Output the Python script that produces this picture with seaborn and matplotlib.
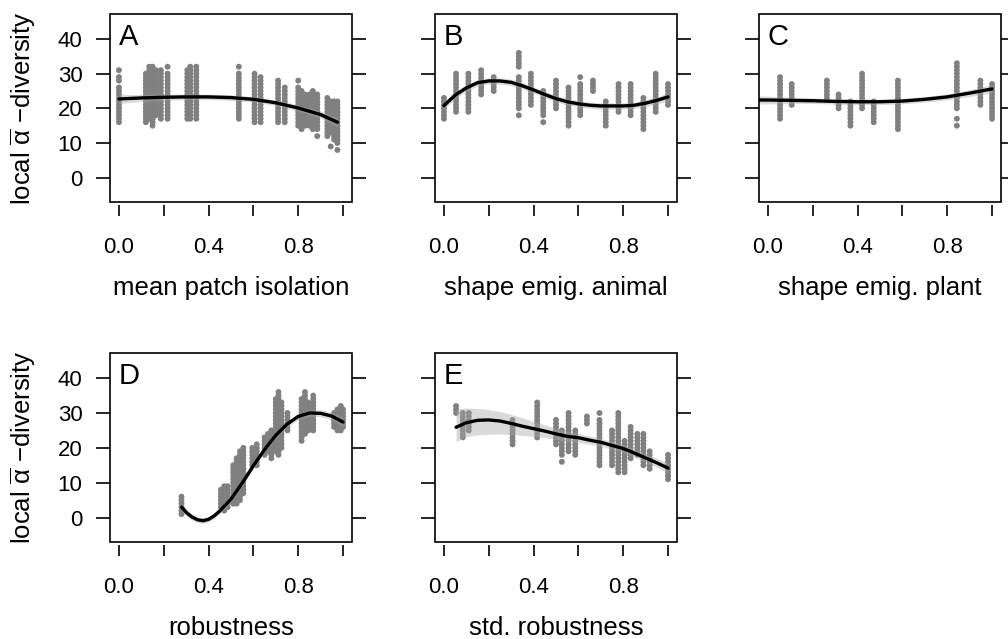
import numpy as np
import pandas as pd
import matplotlib
matplotlib.use("Agg")
import matplotlib.pyplot as plt
import seaborn as sns

# ---------------- data ----------------
panel_letters = ["A", "B", "C", "D", "E"]
xlabels = ["mean patch isolation", "shape emig. animal", "shape emig. plant",
           "robustness", "std. robustness"]
ylabel_text = r"local $\overline{\mathrm{\alpha}}$ $-$diversity"
ytick_vals = [0, 10, 20, 30, 40]
xtick_vals = [0.0, 0.2, 0.4, 0.6, 0.8, 1.0]
xtick_text = ["0.0", "", "0.4", "", "0.8", ""]

# Panel A: strips of points (x position, y values)
a_x = [0.000, 0.120, 0.135, 0.150, 0.165, 0.187, 0.217, 0.305, 0.318, 0.345, 0.535,
       0.605, 0.632, 0.710, 0.740, 0.800, 0.815, 0.830, 0.850, 0.865, 0.885, 0.930,
       0.945, 0.960, 0.975]
a_y = [
    [16, 17, 18, 19, 20, 21, 22, 23, 24, 25, 26, 28, 29, 31],
    [16, 17, 18, 19, 20, 21, 22, 23, 24, 25, 26, 27, 28, 29, 30],
    [17, 18, 19, 20, 21, 22, 23, 24, 25, 26, 27, 28, 29, 30, 31, 32],
    [15, 16, 17, 18, 19, 20, 21, 22, 23, 24, 25, 26, 27, 28, 29, 30, 31, 32],
    [18, 19, 20, 21, 22, 23, 24, 25, 26, 27, 28, 29, 30, 31],
    [17, 18, 19, 20, 21, 22, 23, 24, 25, 26, 27, 28, 29, 30, 31],
    [17, 18, 19, 20, 21, 22, 23, 24, 25, 26, 27, 28, 29, 30, 32],
    [17, 18, 19, 20, 21, 22, 23, 24, 25, 26, 27, 28, 29, 30, 31],
    [17, 18, 19, 20, 21, 22, 23, 24, 25, 26, 27, 28, 29, 30, 31, 32],
    [17, 18, 19, 20, 21, 22, 23, 24, 25, 26, 27, 28, 29, 30, 31, 32],
    [17, 18, 19, 20, 21, 22, 23, 24, 25, 26, 27, 28, 29, 30, 32],
    [16, 17, 18, 19, 20, 21, 22, 23, 24, 25, 26, 27, 28, 29, 30],
    [16, 17, 18, 19, 20, 21, 22, 23, 24, 25, 26, 27, 28, 29],
    [16, 17, 18, 19, 20, 21, 22, 23, 24, 25, 26, 27, 28],
    [16, 17, 18, 19, 20, 21, 22, 23, 24, 25, 26],
    [15, 16, 17, 18, 19, 20, 21, 22, 23, 24, 25, 26, 28],
    [14, 15, 16, 17, 18, 19, 20, 21, 22, 23, 24, 25],
    [15, 16, 17, 18, 19, 20, 21, 22, 23, 24],
    [15, 16, 17, 18, 19, 20, 21, 22, 23, 24],
    [14, 15, 16, 17, 18, 19, 20, 21, 22, 23, 24, 25],
    [12, 14, 15, 16, 17, 18, 19, 20, 21, 22, 23, 24],
    [12, 13, 14, 15, 16, 17, 18, 19, 20, 21, 22, 23],
    [9, 13, 14, 15, 16, 17, 18, 19, 20, 21, 22],
    [11, 12, 13, 14, 15, 16, 17, 18, 19, 20, 21, 22],
    [8, 10, 11, 12, 13, 14, 15, 16, 17, 18, 19, 20, 21, 22],
]

# Panel B
b_x = [0.000, 0.054, 0.109, 0.166, 0.222, 0.334, 0.388, 0.443, 0.500, 0.556, 0.608,
       0.665, 0.722, 0.779, 0.833, 0.890, 0.945, 1.000]
b_y = [
    [17, 18, 19, 20, 21, 22, 23],
    [19, 20, 21, 22, 23, 24, 25, 26, 27, 28, 29, 30],
    [19, 20, 21, 22, 23, 24, 25, 26, 27, 28, 29, 30],
    [24, 25, 26, 27, 28, 29, 30, 31],
    [25, 26, 27, 28, 29],
    [18, 20, 21, 22, 23, 24, 25, 26, 27, 28, 29, 32, 33, 34, 35, 36],
    [21, 22, 23, 24, 25, 26, 27, 28, 29, 30],
    [16, 18, 19, 20, 21, 22, 23, 24, 25],
    [20, 21, 22, 23, 24, 25, 26, 27, 28],
    [15, 16, 17, 18, 19, 20, 21, 22, 23, 24, 25, 26],
    [18, 19, 20, 21, 22, 23, 24, 25, 26, 27, 29],
    [25, 26, 27, 28],
    [15, 16, 17, 18, 19, 20, 21, 22],
    [19, 20, 21, 22, 23, 24, 25, 26, 27],
    [18, 19, 20, 21, 22, 23, 24, 25, 26, 27],
    [14, 15, 16, 17, 18, 19, 20, 21, 22, 23],
    [19, 20, 21, 22, 23, 24, 25, 26, 27, 28, 29, 30],
    [21, 22, 23, 24, 25, 26, 27],
]

# Panel C
c_x = [0.054, 0.106, 0.263, 0.315, 0.368, 0.420, 0.472, 0.580, 0.843, 0.948, 1.000]
c_y = [
    [17, 18, 19, 20, 21, 22, 23, 24, 25, 26, 27, 28, 29],
    [21, 22, 23, 24, 25, 26, 27],
    [23, 24, 25, 26, 27, 28],
    [20, 21, 22, 23, 24],
    [15, 16, 17, 18, 19, 20, 21, 22],
    [20, 21, 22, 23, 24, 25, 26, 27, 28, 29, 30],
    [16, 17, 18, 19, 20, 21, 22],
    [14, 15, 16, 17, 18, 19, 20, 21, 22, 23, 24, 25, 26, 27, 28],
    [15, 17, 20, 21, 22, 23, 24, 25, 26, 27, 28, 29, 30, 31, 32, 33],
    [21, 22, 23, 24, 25, 26, 27, 28],
    [17, 18, 19, 20, 21, 22, 23, 24, 25, 26, 27],
]

# Panel D
d_x = [0.279, 0.455, 0.470, 0.485, 0.510, 0.525, 0.540, 0.555, 0.595, 0.615, 0.650,
       0.665, 0.680, 0.700, 0.712, 0.725, 0.752, 0.815, 0.830, 0.845, 0.867, 0.960,
       0.975, 0.990, 1.000]
d_y = [
    [1, 2, 3, 4, 5, 6],
    [3, 4, 5, 6, 7, 8],
    [2, 3, 4, 5, 6, 7, 8, 9],
    [3, 4, 5, 6, 7, 8, 9],
    [4, 5, 6, 7, 8, 9, 10, 11, 12, 13, 14, 15],
    [4, 5, 6, 7, 8, 9, 10, 11, 12, 13, 14, 15, 16, 17],
    [5, 6, 7, 8, 9, 10, 11, 12, 13, 14, 15, 16, 17, 18, 19],
    [7, 8, 9, 10, 11, 12, 13, 14, 15, 16, 17, 18, 19, 20],
    [15, 16, 17, 18, 19, 20],
    [15, 16, 17, 18, 19, 20, 21],
    [18, 19, 20, 21, 22, 23],
    [19, 20, 21, 22, 23, 24],
    [17, 18, 19, 20, 21, 22, 23, 24, 25],
    [19, 20, 21, 22, 23, 24, 25, 26, 27, 28, 29, 30, 31, 32, 33, 34],
    [18, 19, 20, 21, 22, 23, 24, 25, 26, 27, 28, 29, 30, 31, 32, 33, 34, 35, 36],
    [20, 21, 22, 23, 24, 25, 26, 27, 28, 29, 30, 31, 32, 33],
    [25, 26, 27, 28, 29, 30],
    [22, 23, 24, 25, 26, 27, 28, 29, 30, 31, 32, 33, 34],
    [24, 25, 26, 27, 28, 29, 30, 31, 32, 33, 34, 35, 36],
    [25, 26, 27, 28, 29, 30, 31, 32, 33],
    [25, 26, 27, 28, 29, 30, 31, 32, 33, 34, 35],
    [26, 27, 28, 29, 30],
    [25, 26, 27, 28, 29, 30, 31],
    [25, 26, 27, 28, 29, 30, 31, 32],
    [26, 27, 28, 29, 30, 31],
]

# Panel E
e_x = [0.054, 0.084, 0.111, 0.306, 0.416, 0.500, 0.526, 0.556, 0.586, 0.638, 0.694,
       0.750, 0.778, 0.806, 0.833, 0.863, 0.890, 0.918, 1.000]
e_y = [
    [30, 31, 32],
    [23, 24, 25, 26, 27, 28, 29, 30],
    [25, 26, 27, 28, 29, 30],
    [21, 22, 23, 24, 25, 26, 27, 28],
    [23, 24, 25, 26, 27, 28, 29, 30, 31, 32, 33],
    [21, 22, 23, 24, 25, 26, 27, 28],
    [16, 18, 19, 20, 21, 22, 23, 24, 25],
    [19, 20, 21, 22, 23, 24, 25, 26, 27, 28, 29, 30],
    [18, 19, 20, 21, 22, 23, 24, 25],
    [27, 28, 29],
    [15, 16, 17, 18, 19, 20, 21, 22, 23, 24, 25, 26, 27, 28, 30],
    [15, 16, 17, 18, 19, 20, 21, 22, 23, 24, 25],
    [13, 14, 15, 16, 17, 18, 19, 20, 21, 22, 23, 24, 25, 26, 27, 28, 29, 30],
    [13, 14, 15, 16, 17, 18, 19, 20, 21, 22],
    [17, 18, 19, 20, 21, 22, 23, 24, 25, 26],
    [18, 19, 20, 21, 22, 23, 24],
    [15, 16, 17, 18, 19, 20, 21, 22, 23, 24],
    [14, 15, 16, 17, 18, 19],
    [11, 12, 13, 14, 15, 16, 17, 18],
]

# Fitted curves with confidence band half-widths
a_cx = [0.0, 0.1, 0.2, 0.3, 0.4, 0.5, 0.6, 0.7, 0.8, 0.9, 0.975]
a_cy = [22.7, 23.0, 23.2, 23.3, 23.3, 23.1, 22.6, 21.6, 20.1, 18.2, 16.0]
a_hw = [1.3, 1.0, 0.9, 0.8, 0.8, 0.8, 0.8, 0.8, 0.9, 1.0, 1.3]

b_cx = [0.0, 0.05, 0.1, 0.15, 0.2, 0.25, 0.3, 0.35, 0.4, 0.45, 0.5, 0.55, 0.6, 0.65,
        0.7, 0.75, 0.8, 0.85, 0.9, 0.95, 1.0]
b_cy = [20.8, 23.8, 25.9, 27.4, 27.9, 27.9, 27.5, 26.5, 25.3, 24.0, 22.8, 21.9, 21.3,
        20.9, 20.7, 20.7, 20.7, 20.9, 21.5, 22.3, 23.3]
b_hw = [1.2, 1.0, 1.0, 0.9, 0.9, 0.9, 0.9, 0.9, 0.9, 0.9, 0.9, 0.9, 0.9, 0.9, 0.9,
        0.9, 0.9, 0.9, 1.0, 1.0, 1.2]

c_cx = [-0.04, 0.0, 0.1, 0.2, 0.3, 0.4, 0.5, 0.6, 0.7, 0.8, 0.9, 1.0]
c_cy = [22.4, 22.4, 22.3, 22.2, 22.0, 21.9, 21.9, 22.1, 22.6, 23.3, 24.4, 25.6]
c_hw = [1.2, 1.1, 0.9, 0.8, 0.8, 0.8, 0.8, 0.8, 0.8, 0.9, 1.0, 1.2]

d_cx = [0.28, 0.30, 0.325, 0.35, 0.375, 0.40, 0.425, 0.45, 0.50, 0.55, 0.60, 0.65,
        0.70, 0.75, 0.80, 0.85, 0.90, 0.95, 1.0]
d_cy = [3.0, 1.5, 0.2, -0.6, -0.9, -0.5, 0.5, 1.9, 5.3, 9.9, 14.9, 19.5, 23.6, 26.8,
        29.0, 30.0, 29.9, 29.1, 27.4]
d_hw = [1.2, 1.0, 0.9, 0.8, 0.8, 0.8, 0.8, 0.8, 0.8, 0.8, 0.8, 0.8, 0.8, 0.8, 0.8,
        0.9, 1.0, 1.1, 1.3]

e_cx = [0.054, 0.1, 0.15, 0.2, 0.25, 0.3, 0.35, 0.4, 0.45, 0.5, 0.55, 0.6, 0.65, 0.7,
        0.75, 0.8, 0.85, 0.9, 0.95, 1.0]
e_cy = [25.9, 27.2, 27.9, 28.0, 27.7, 27.0, 26.2, 25.5, 24.8, 24.0, 23.3, 22.9, 22.2,
        21.6, 20.7, 19.8, 18.5, 17.1, 15.7, 14.2]
e_hi = [31.3, 31.4, 31.3, 31.0, 30.4, 29.6, 28.6, 27.6, 26.6, 25.6, 24.8, 24.1, 23.4,
        22.7, 21.8, 20.9, 19.6, 18.3, 17.0, 15.7]
e_lo = [21.8, 23.2, 23.7, 23.9, 24.0, 23.8, 23.6, 23.3, 22.9, 22.4, 21.8, 21.6, 21.0,
        20.5, 19.6, 18.7, 17.4, 15.9, 14.4, 12.7]

# ---------------- style ----------------
sns.set_theme(style="white")
plt.rcParams["font.family"] = ["Liberation Sans", "DejaVu Sans"]
plt.rcParams["mathtext.fontset"] = "custom"
plt.rcParams["mathtext.rm"] = "Liberation Sans"
plt.rcParams["mathtext.it"] = "Liberation Sans:italic"
plt.rcParams["mathtext.bf"] = "Liberation Sans:bold"

W, H = 1008, 639
fig = plt.figure(figsize=(W / 100, H / 100), dpi=100)
fig.patch.set_facecolor("white")

# axes boxes in pixels: (left, top, right, bottom)
boxes = [(110, 14, 352, 202), (435, 14, 677, 202), (759, 14, 1001, 202),
         (110, 353, 352, 542), (435, 353, 677, 542)]

strip_x = [a_x, b_x, c_x, d_x, e_x]
strip_y = [a_y, b_y, c_y, d_y, e_y]

def band(cy, hw):
    lo = [y - h for y, h in zip(cy, hw)]
    hi = [y + h for y, h in zip(cy, hw)]
    return lo, hi

a_lo, a_hi = band(a_cy, a_hw)
b_lo, b_hi = band(b_cy, b_hw)
c_lo, c_hi = band(c_cy, c_hw)
d_lo, d_hi = band(d_cy, d_hw)
curves = [(a_cx, a_cy, a_lo, a_hi), (b_cx, b_cy, b_lo, b_hi), (c_cx, c_cy, c_lo, c_hi),
          (d_cx, d_cy, d_lo, d_hi), (e_cx, e_cy, e_lo, e_hi)]

TICK_FS = 16
LAB_FS = 18.5

for i in range(5):
    l, t, r, b = boxes[i]
    ax = fig.add_axes([l / W, 1 - b / H, (r - l) / W, (b - t) / H])
    ax.set_facecolor("white")

    rows = [(x, y) for x, col in zip(strip_x[i], strip_y[i]) for y in col]
    df = pd.DataFrame(rows, columns=["x", "y"])
    sns.scatterplot(data=df, x="x", y="y", color="#808080", s=18, linewidth=0,
                    edgecolor="none", ax=ax, zorder=2)

    cx, cy, lo, hi = curves[i]
    ax.fill_between(cx, lo, hi, color="#a8a8a8", alpha=0.42, linewidth=0, zorder=3)
    sns.lineplot(x=cx, y=cy, color="black", linewidth=2.4, ax=ax, sort=False,
                 estimator=None, zorder=4)

    ax.set_xlim(-0.04, 1.04)
    ax.set_ylim(-7, 47.2)

    for s in ax.spines.values():
        s.set_visible(False)
    ax.spines["bottom"].set_position(("outward", 2.2))
    ax.add_patch(plt.Rectangle((0, 0), 1, 1, transform=ax.transAxes, fill=False,
                               ec="black", lw=1.2, clip_on=False, zorder=6))

    ax.set_xticks(xtick_vals)
    ax.set_xticklabels(xtick_text)
    ax.set_yticks(ytick_vals)
    ax.tick_params(axis="x", bottom=True, direction="out", length=8, width=1.2,
                   color="black", labelsize=TICK_FS, pad=15, labelcolor="black")
    ax.tick_params(axis="y", left=True, right=True, direction="out", length=9.8,
                   width=1.2, color="black", labelsize=TICK_FS, pad=10,
                   labelcolor="black", labelleft=(i in (0, 3)), labelright=False)

    ax.set_xlabel(xlabels[i], fontsize=LAB_FS, color="black")
    ax.xaxis.set_label_coords(0.5, -0.455)
    ax.xaxis.label.set_va("center")
    if i in (0, 3):
        ax.set_ylabel(ylabel_text, fontsize=LAB_FS, color="black")
        ax.yaxis.set_label_coords(-0.36, 0.5)
        ax.yaxis.label.set_va("center")
    else:
        ax.set_ylabel("")

    ax.text(0.035, 0.95, panel_letters[i], transform=ax.transAxes, ha="left",
            va="top", fontsize=21, color="black", zorder=7)

fig.savefig("out.png", dpi=100, facecolor="white")
